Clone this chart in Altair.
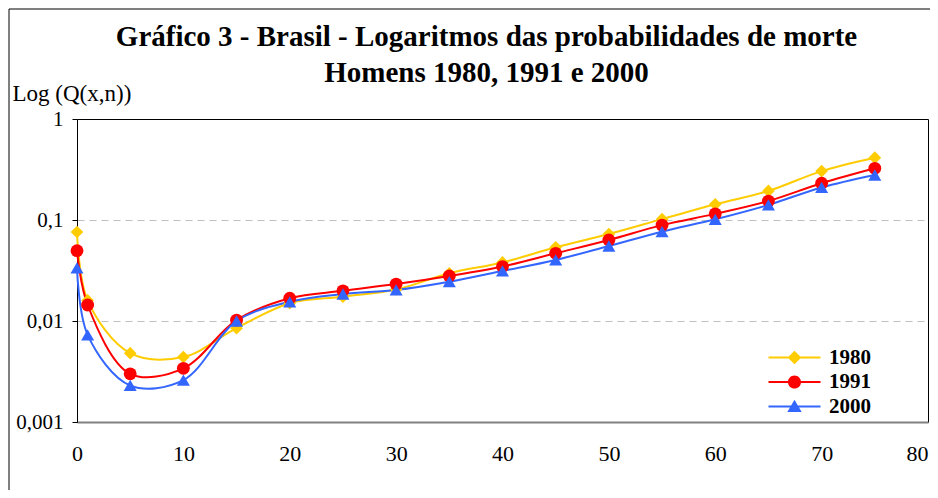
import altair as alt
import pandas as pd

ages = [0, 1, 5, 10, 15, 20, 25, 30, 35, 40, 45, 50, 55, 60, 65, 70, 75]
q1980 = [0.076, 0.0160, 0.0048, 0.0044, 0.0085, 0.0150, 0.0174, 0.0205, 0.0297, 0.0380,
         0.0537, 0.0727, 0.102, 0.143, 0.194, 0.305, 0.414]
q1991 = [0.0497, 0.0144, 0.0030, 0.0034, 0.0102, 0.0168, 0.0199, 0.0232, 0.0279, 0.0346,
         0.0468, 0.0634, 0.089, 0.115, 0.154, 0.231, 0.325]
q2000 = [0.0335, 0.0073, 0.0023, 0.0026, 0.0100, 0.0155, 0.0185, 0.0203, 0.0245, 0.0313,
         0.0402, 0.0553, 0.0766, 0.1016, 0.141, 0.210, 0.279]
series = ["1980", "1991", "2000"]
colors = ["#FFCC00", "#FF0000", "#3366FF"]
shapes = ["diamond", "circle", "triangle-up"]
x_ticks = [0, 10, 20, 30, 40, 50, 60, 70, 80]
y_ticks = [0.001, 0.01, 0.1, 1]
title_lines = ["Gráfico 3 - Brasil - Logaritmos das probabilidades de morte",
               "Homens 1980, 1991 e 2000"]
y_title = "Log (Q(x,n))"

rows = []
for s, vals in zip(series, [q1980, q1991, q2000]):
    for a, v in zip(ages, vals):
        rows.append({"idade": a, "q": v, "serie": s})
df = pd.DataFrame(rows)

FONT = "Liberation Serif"

x_enc = alt.X(
    "idade:Q",
    scale=alt.Scale(domain=[0, 80], nice=False, zero=False),
    axis=alt.Axis(values=x_ticks, title=None, grid=False, ticks=False,
                  domainColor="#808080", domainWidth=2, labelFont=FONT,
                  labelFontSize=22, labelPadding=21, labelColor="black",
                  labelFlush=False,
                  labelAlign={"condition": {"test": "datum.value == 80", "value": "right"},
                              "value": "center"}),
)
y_enc = alt.Y(
    "q:Q",
    scale=alt.Scale(type="log", domain=[0.001, 1], nice=False),
    axis=alt.Axis(values=y_ticks,
                  labelExpr="replace(toString(datum.value), '.', ',')",
                  grid=True, gridDash=[7, 5], gridColor="#C0C0C0", gridWidth=1,
                  gridOpacity={"condition": {"test": "datum.value == 1 || datum.value == 0.001",
                                             "value": 0}, "value": 1},
                  domainColor="black", tickColor="black", tickSize=5,
                  labelFont=FONT, labelFontSize=21, labelColor="black",
                  labelPadding=9, labelBaseline="middle", labelFlush=False,
                  title=y_title, titleAngle=0, titleX=-65, titleY=-19,
                  titleAlign="left", titleBaseline="alphabetic", titleFont=FONT,
                  titleFontSize=23, titleFontWeight="normal", titleColor="black"),
)

# legend symbols: a line segment with the series marker on it
P_LINE = "M-3.25,-0.13H3.25V0.13H-3.25Z"
legend_shapes = [
    P_LINE + "M0,-0.85L0.85,0L0,0.85L-0.85,0Z",
    P_LINE + "M-0.82,0A0.82,0.82 0 1 1 0.82,0A0.82,0.82 0 1 1 -0.82,0Z",
    P_LINE + "M0,-0.85L0.9,0.7L-0.9,0.7Z",
]

lines = alt.Chart(df).mark_line(interpolate="catmull-rom", strokeWidth=2).encode(
    x=x_enc, y=y_enc,
    color=alt.Color("serie:N", scale=alt.Scale(domain=series, range=colors), legend=None),
    detail="serie:N",
)

points = alt.Chart(df).mark_point(filled=True, opacity=1, strokeWidth=0).encode(
    x="idade:Q", y="q:Q",
    color=alt.Color("serie:N", scale=alt.Scale(domain=series, range=colors), legend=None),
    shape=alt.Shape("serie:N", scale=alt.Scale(domain=series, range=shapes), legend=None),
    size=alt.Size("serie:N", scale=alt.Scale(domain=series, range=[160, 170, 200]), legend=None),
)

leg = dict(orient="none", legendX=707, legendY=228, title=None, labelFont=FONT,
           labelFontSize=21, labelFontWeight="bold", labelColor="black",
           symbolSize=256, labelOffset=24, rowPadding=2.5, symbolStrokeWidth=0)

legend_layer = alt.Chart(df).transform_filter("false").mark_point(
    filled=True, opacity=1, strokeWidth=0
).encode(
    x="idade:Q", y="q:Q",
    color=alt.Color("serie:N", scale=alt.Scale(domain=series, range=colors),
                    legend=alt.Legend(**leg)),
    shape=alt.Shape("serie:N", scale=alt.Scale(domain=series, range=legend_shapes),
                    legend=alt.Legend(**leg)),
)

frame = alt.Chart(alt.Data(values=[{"a": 1}])).mark_rect(
    fill="transparent", stroke="black", strokeWidth=1
).encode(x=alt.value(-68), x2=alt.value(960), y=alt.value(-110), y2=alt.value(440))

chart = alt.layer(frame, lines, points, legend_layer).resolve_scale(
    color="independent", shape="independent", size="independent"
).properties(
    width=851, height=303,
    autosize=alt.AutoSizeParams(type="none"),
    padding={"left": 69, "top": 111, "right": 2, "bottom": 68},
    title=alt.TitleParams(text=title_lines, font=FONT, fontSize=29, fontWeight="bold",
                          color="black", anchor="middle", dx=-16, lineHeight=36,
                          baseline="alphabetic", offset=-102),
).configure(background="white", font=FONT).configure_view(
    stroke="black", strokeWidth=1
).configure_axis(labelFont=FONT, titleFont=FONT)

chart.save("out.html", embed_options={"renderer": "svg", "actions": False})
